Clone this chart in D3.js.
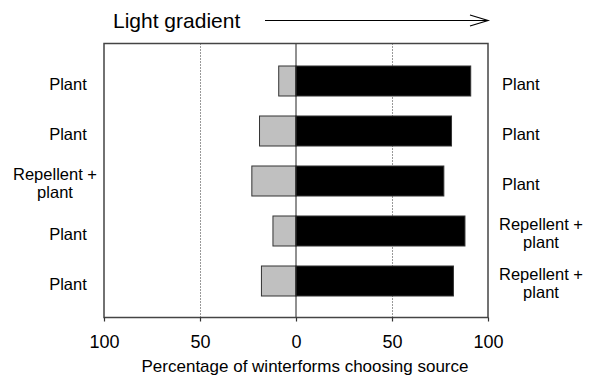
<!DOCTYPE html>
<html>
<head>
<meta charset="utf-8">
<script src="https://cdn.jsdelivr.net/npm/d3@7"></script>
<style>
  body { margin: 0; background: #fff; }
  svg { font-family: "Liberation Sans", Arial, sans-serif; }
</style>
</head>
<body>
<div id="chart"></div>
<script>
// data
const rows = [0, 1, 2, 3, 4];
const leftLabels = [["Plant"], ["Plant"], ["Repellent +", "plant"], ["Plant"], ["Plant"]];
const rightLabels = [["Plant"], ["Plant"], ["Plant"], ["Repellent +", "plant"], ["Repellent +", "plant"]];
const leftValues = [9, 19, 23, 12, 18];
const rightValues = [91, 81, 77, 88, 82];
const tickValues = [-100, -50, 0, 50, 100];
const gridValues = [-50, 50];

const width = 590, height = 377;
const frame = {left: 104, right: 488, top: 43.5, bottom: 317.5};

const svg = d3.select("#chart")
  .append("svg")
  .attr("width", width)
  .attr("height", height);

const x = d3.scaleLinear()
  .domain([-100, 100])
  .range([frame.left, frame.right]);

const y = d3.scaleBand()
  .domain(rows)
  .range([56, 306])
  .paddingInner(0.4)
  .paddingOuter(0.2);

// dotted grid lines at 50
svg.selectAll(".grid")
  .data(gridValues)
  .enter().append("line")
  .attr("x1", d => x(d) + 0.5).attr("x2", d => x(d) + 0.5)
  .attr("y1", frame.top).attr("y2", frame.bottom)
  .attr("stroke", "#333")
  .attr("stroke-width", 1)
  .attr("stroke-dasharray", "1,2");

// bars
svg.selectAll(".left")
  .data(rows)
  .enter().append("rect")
  .attr("x", i => x(-leftValues[i]))
  .attr("y", i => y(i))
  .attr("width", i => x(0) - x(-leftValues[i]))
  .attr("height", y.bandwidth())
  .attr("fill", "#c0c0c0")
  .attr("stroke", "#333")
  .attr("stroke-width", 1);

svg.selectAll(".right")
  .data(rows)
  .enter().append("rect")
  .attr("x", x(0))
  .attr("y", i => y(i))
  .attr("width", i => x(rightValues[i]) - x(0))
  .attr("height", y.bandwidth())
  .attr("fill", "#000")
  .attr("stroke", "#333")
  .attr("stroke-width", 1);

// zero line
svg.append("line")
  .attr("x1", x(0)).attr("x2", x(0))
  .attr("y1", frame.top).attr("y2", frame.bottom)
  .attr("stroke", "#222")
  .attr("stroke-width", 1);

// frame
svg.append("rect")
  .attr("x", frame.left).attr("y", frame.top)
  .attr("width", frame.right - frame.left)
  .attr("height", frame.bottom - frame.top)
  .attr("fill", "none")
  .attr("stroke", "#444")
  .attr("stroke-width", 1.5);

// bottom axis
const axis = svg.append("g")
  .attr("transform", `translate(0,${frame.bottom})`)
  .call(d3.axisBottom(x)
    .tickValues(tickValues)
    .tickFormat(d => Math.abs(d))
    .tickSize(4)
    .tickPadding(14));
axis.select(".domain").remove();
axis.selectAll(".tick line").attr("stroke", "#333").attr("stroke-width", 1.2);
axis.selectAll(".tick text")
  .attr("font-size", 18)
  .attr("font-family", "Liberation Sans, Arial, sans-serif")
  .attr("fill", "#000");

svg.append("text")
  .attr("x", 305)
  .attr("y", 372)
  .attr("text-anchor", "middle")
  .attr("font-size", 17)
  .text("Percentage of winterforms choosing source");

// row labels
function drawLabels(labels, xSingle, anchorSingle, xMulti) {
  const g = svg.append("g").attr("font-size", 16.5);
  rows.forEach(i => {
    const lines = labels[i];
    const cy = y(i) + y.bandwidth() / 2;
    const t = g.append("text");
    if (lines.length === 1) {
      t.attr("x", xSingle).attr("y", cy + 9)
        .attr("text-anchor", anchorSingle)
        .text(lines[0]);
    } else {
      t.attr("text-anchor", "middle");
      lines.forEach((s, k) => {
        t.append("tspan")
          .attr("x", xMulti)
          .attr("y", cy - 1 + k * 17.5)
          .text(s);
      });
    }
  });
}
drawLabels(leftLabels, 68, "middle", 55);
drawLabels(rightLabels, 502, "start", 541);

// light gradient header
svg.append("text")
  .attr("x", 113)
  .attr("y", 28)
  .attr("font-size", 21)
  .text("Light gradient");

svg.append("line")
  .attr("x1", 265).attr("x2", 488)
  .attr("y1", 20.5).attr("y2", 20.5)
  .attr("stroke", "#000")
  .attr("stroke-width", 1.2);

svg.append("path")
  .attr("d", "M470,15 L488,20.5 L470,26")
  .attr("fill", "none")
  .attr("stroke", "#000")
  .attr("stroke-width", 1.2);
</script>
</body>
</html>
